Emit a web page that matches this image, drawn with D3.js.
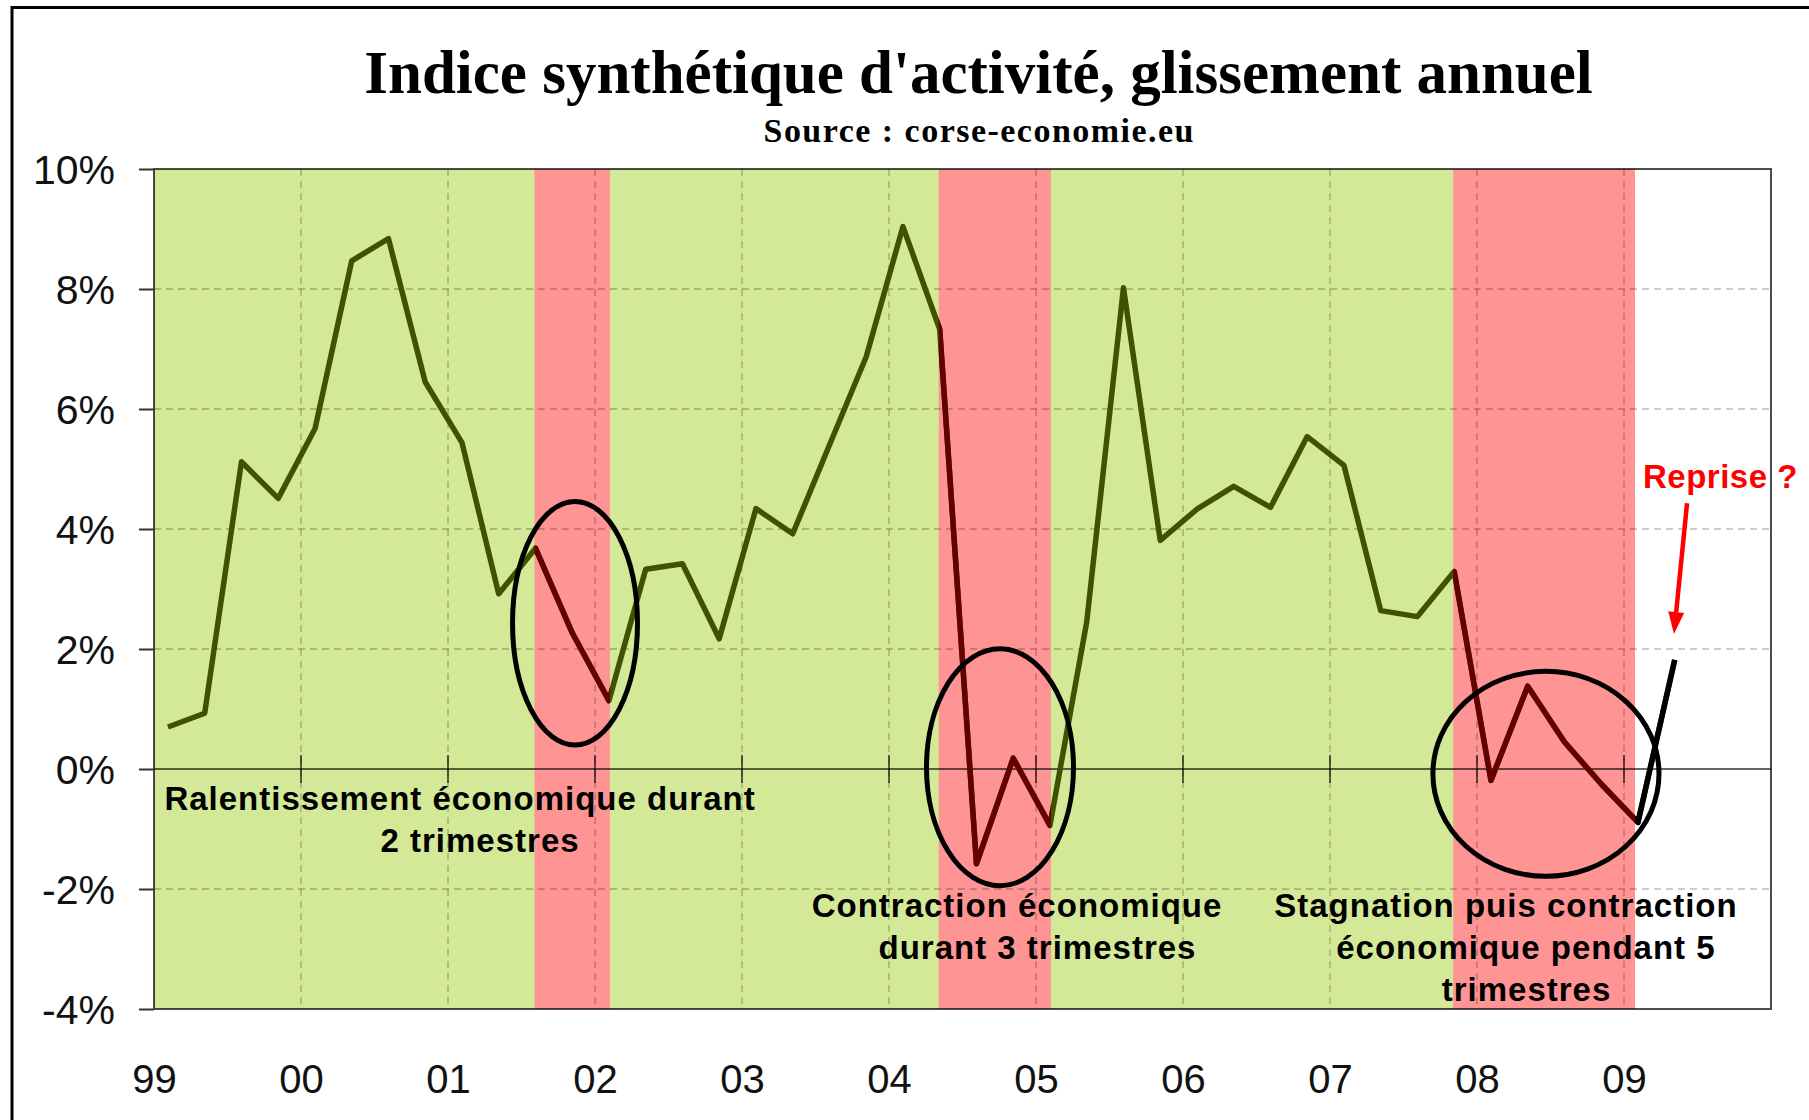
<!DOCTYPE html>
<html>
<head>
<meta charset="utf-8">
<script src="https://cdn.jsdelivr.net/npm/d3@7"></script>
<style>
  body { margin: 0; background: #fff; }
  svg text { font-family: 'Liberation Sans', Arial, sans-serif; }
</style>
</head>
<body>
<div class="svg-target"></div>
<script>
// quarterly data (glissement annuel, %)
const periods = [
    '1999T1', '1999T2', '1999T3', '1999T4', '2000T1', '2000T2', '2000T3', '2000T4',
    '2001T1', '2001T2', '2001T3', '2001T4', '2002T1', '2002T2', '2002T3', '2002T4',
    '2003T1', '2003T2', '2003T3', '2003T4', '2004T1', '2004T2', '2004T3', '2004T4',
    '2005T1', '2005T2', '2005T3', '2005T4', '2006T1', '2006T2', '2006T3', '2006T4',
    '2007T1', '2007T2', '2007T3', '2007T4', '2008T1', '2008T2', '2008T3', '2008T4',
    '2009T1', '2009T2'
];
const values = [
    0.70, 0.93, 5.12, 4.51, 5.67, 8.47, 8.84, 6.45,
    5.44, 2.92, 3.68, 2.27, 1.14, 3.33, 3.42, 2.17,
    4.34, 3.92, 5.40, 6.87, 9.04, 7.33, -1.58, 0.18,
    -0.94, 2.45, 8.02, 3.81, 4.33, 4.71, 4.36, 5.54,
    5.06, 2.64, 2.54, 3.29, -0.19, 1.38, 0.45, -0.25,
    -0.89, 1.82
];
const recessions = [['2001T3', '2002T1'], ['2004T2', '2005T1'], ['2007T4', '2009T1']];
const yTicks = [-4, -2, 0, 2, 4, 6, 8, 10];
const years = [1999, 2000, 2001, 2002, 2003, 2004, 2005, 2006, 2007, 2008, 2009];
const yearLabels = ['99', '00', '01', '02', '03', '04', '05', '06', '07', '08', '09'];

const title = "Indice synthétique d'activité, glissement annuel";
const subtitle = 'Source : corse-economie.eu';

const w = 1809;
const h = 1120;
const plot = { left: 154, right: 1771, top: 169, bottom: 1009 };

const green = '#d4e997';
const red = '#ff9494';
const olive = '#3e5200';
const darkRed = '#640000';

// position of a quarter on the time axis
const tPos = p => +p.slice(0, 4) + (+p.slice(5) - 1) / 4 + 0.095;

const data = periods.map((p, i) => ({ p, v: values[i] }));

// annotations, in chart units (year, %)
const rings = [
    { t: 2001.864, v: 2.43, rt: 0.425, rv: 2.03 },
    { t: 2004.755, v: 0.03, rt: 0.5, rv: 1.975 },
    { t: 2008.469, v: -0.08, rt: 0.769, rv: 1.708 }
];
const notes = [
    { t: 2001.082, v: -0.68, text: 'Ralentissement économique durant' },
    { t: 2001.218, v: -1.38, text: '2 trimestres' },
    { t: 2004.871, v: -2.47, text: 'Contraction économique' },
    { t: 2005.010, v: -3.17, text: 'durant 3 trimestres' },
    { t: 2008.197, v: -2.47, text: 'Stagnation puis contraction' },
    { t: 2008.333, v: -3.17, text: 'économique pendant 5' },
    { t: 2008.337, v: -3.86, text: 'trimestres' }
];

const svg = d3.select('.svg-target')
    .append('svg')
    .attr('width', w)
    .attr('height', h);

const xScale = d3.scaleLinear()
    .domain([1999, 2010])
    .range([plot.left, plot.right]);

const yScale = d3.scaleLinear()
    .domain([-4, 10])
    .range([plot.bottom, plot.top]);

// outer frame
svg.append('path')
    .attr('d', `M12,${h} V7.5 H${w}`)
    .attr('fill', 'none')
    .attr('stroke', '#000')
    .attr('stroke-width', 3);

// titles
svg.append('text')
    .attr('x', 978.5)
    .attr('y', 93)
    .attr('text-anchor', 'middle')
    .style('font-family', "'Liberation Serif', 'Times New Roman', serif")
    .style('font-weight', 'bold')
    .style('font-size', '61px')
    .text(title);

svg.append('text')
    .attr('x', 978.5)
    .attr('y', 142)
    .attr('text-anchor', 'middle')
    .attr('textLength', 430)
    .attr('lengthAdjust', 'spacing')
    .style('font-family', "'Liberation Serif', 'Times New Roman', serif")
    .style('font-weight', 'bold')
    .style('font-size', '34px')
    .text(subtitle);

// background bands
const shadeEnd = xScale(tPos(recessions[recessions.length - 1][1])) - 3;

svg.append('rect')
    .attr('x', plot.left)
    .attr('y', plot.top)
    .attr('width', shadeEnd - plot.left)
    .attr('height', plot.bottom - plot.top)
    .attr('fill', green);

const bandX = d => xScale(tPos(d[0])) - 1;
const bandW = d => Math.min(xScale(tPos(d[1])) + 1, shadeEnd) - bandX(d);

svg.selectAll('.band')
    .data(recessions)
    .enter()
    .append('rect')
        .attr('class', 'band')
        .attr('x', bandX)
        .attr('y', plot.top)
        .attr('width', bandW)
        .attr('height', plot.bottom - plot.top)
        .attr('fill', red);

// clip regions for the line colours
const defs = svg.append('defs');
defs.append('clipPath')
    .attr('id', 'clip-red')
    .selectAll('rect')
    .data(recessions)
    .enter()
    .append('rect')
        .attr('x', bandX)
        .attr('y', 0)
        .attr('width', bandW)
        .attr('height', h);

defs.append('clipPath')
    .attr('id', 'clip-after')
    .append('rect')
        .attr('x', shadeEnd)
        .attr('y', 0)
        .attr('width', w - shadeEnd)
        .attr('height', h);

// grid
const grid = svg.append('g')
    .attr('stroke', '#000')
    .attr('stroke-opacity', 0.2)
    .attr('stroke-width', 1.8)
    .attr('stroke-dasharray', '7,5');

grid.selectAll('.hgrid')
    .data(yTicks.filter(d => d !== 0 && d !== -4 && d !== 10))
    .enter()
    .append('line')
        .attr('x1', plot.left)
        .attr('x2', plot.right)
        .attr('y1', d => yScale(d))
        .attr('y2', d => yScale(d));

grid.selectAll('.vgrid')
    .data(years.slice(1))
    .enter()
    .append('line')
        .attr('x1', d => xScale(d))
        .attr('x2', d => xScale(d))
        .attr('y1', plot.top)
        .attr('y2', plot.bottom);

// zero line with year ticks
const y0 = yScale(0);
svg.append('line')
    .attr('x1', plot.left)
    .attr('x2', plot.right)
    .attr('y1', y0)
    .attr('y2', y0)
    .attr('stroke', 'rgba(0,0,0,0.6)')
    .attr('stroke-width', 2);

svg.selectAll('.ztick')
    .data(years.slice(1))
    .enter()
    .append('line')
        .attr('x1', d => xScale(d))
        .attr('x2', d => xScale(d))
        .attr('y1', y0 - 14)
        .attr('y2', y0 + 14)
        .attr('stroke', 'rgba(0,0,0,0.6)')
        .attr('stroke-width', 2);

// plot border
svg.append('rect')
    .attr('x', plot.left)
    .attr('y', plot.top)
    .attr('width', plot.right - plot.left)
    .attr('height', plot.bottom - plot.top)
    .attr('fill', 'none')
    .attr('stroke', 'rgba(0,0,0,0.7)')
    .attr('stroke-width', 2);

// y axis
const yAxis = d3.axisLeft(yScale)
    .tickValues(yTicks)
    .tickSize(15)
    .tickPadding(24)
    .tickFormat(d => `${d}%`);

const yG = svg.append('g')
    .attr('transform', `translate(${plot.left}, 0)`)
    .call(yAxis);
yG.select('.domain').remove();
yG.selectAll('.tick line').attr('stroke', '#333').attr('stroke-width', 2);
yG.selectAll('.tick text')
    .attr('dy', '0.36em')
    .attr('fill', '#111')
    .style('font-size', '41px')
    .style('font-family', "'Liberation Sans', Arial, sans-serif");

// x axis labels
const xAxis = d3.axisBottom(xScale)
    .tickValues(years)
    .tickSize(0)
    .tickPadding(56)
    .tickFormat((d, i) => yearLabels[i]);

const xG = svg.append('g')
    .attr('transform', `translate(0, ${plot.bottom})`)
    .call(xAxis);
xG.select('.domain').remove();
xG.selectAll('.tick text')
    .attr('fill', '#111')
    .style('font-size', '40px')
    .style('font-family', "'Liberation Sans', Arial, sans-serif");

// series line, coloured by period
const line = d3.line()
    .x(d => xScale(tPos(d.p)))
    .y(d => yScale(d.v));

const drawLine = (colour, clip) => {
    const path = svg.append('path')
        .datum(data)
        .attr('d', line)
        .attr('fill', 'none')
        .attr('stroke', colour)
        .attr('stroke-width', 5.5)
        .attr('stroke-linejoin', 'round');
    if (clip) path.attr('clip-path', `url(#${clip})`);
};
drawLine(olive);
drawLine(darkRed, 'clip-red');
drawLine('#000', 'clip-after');

// rings
svg.selectAll('.ring')
    .data(rings)
    .enter()
    .append('ellipse')
        .attr('cx', d => xScale(d.t))
        .attr('cy', d => yScale(d.v))
        .attr('rx', d => xScale(d.t + d.rt) - xScale(d.t))
        .attr('ry', d => yScale(d.v - d.rv) - yScale(d.v))
        .attr('fill', 'none')
        .attr('stroke', '#000')
        .attr('stroke-width', 5);

// notes
svg.selectAll('.note')
    .data(notes)
    .enter()
    .append('text')
        .attr('x', d => xScale(d.t))
        .attr('y', d => yScale(d.v))
        .attr('text-anchor', 'middle')
        .style('font-weight', 'bold')
        .style('font-size', '33px')
        .style('letter-spacing', '1px')
        .text(d => d.text);

// "Reprise ?" and its arrow
svg.append('text')
    .attr('x', xScale(2009.129))
    .attr('y', yScale(4.68))
    .attr('fill', '#ff0000')
    .style('font-weight', 'bold')
    .style('font-size', '33px')
    .style('letter-spacing', '0.5px')
    .text('Reprise ?');

const a0 = [xScale(2009.429), yScale(4.43)];
const a1 = [xScale(2009.340), yScale(2.25)];
const len = Math.hypot(a1[0] - a0[0], a1[1] - a0[1]);
const ux = (a1[0] - a0[0]) / len;
const uy = (a1[1] - a0[1]) / len;
const headL = 22;
const headW = 8;
const base = [a1[0] - ux * headL, a1[1] - uy * headL];

svg.append('line')
    .attr('x1', a0[0])
    .attr('y1', a0[1])
    .attr('x2', base[0])
    .attr('y2', base[1])
    .attr('stroke', '#ff0000')
    .attr('stroke-width', 4.5);

svg.append('polygon')
    .attr('points', [
        a1,
        [base[0] - uy * headW, base[1] + ux * headW],
        [base[0] + uy * headW, base[1] - ux * headW]
    ].map(p => p.join(',')).join(' '))
    .attr('fill', '#ff0000');
</script>
</body>
</html>
